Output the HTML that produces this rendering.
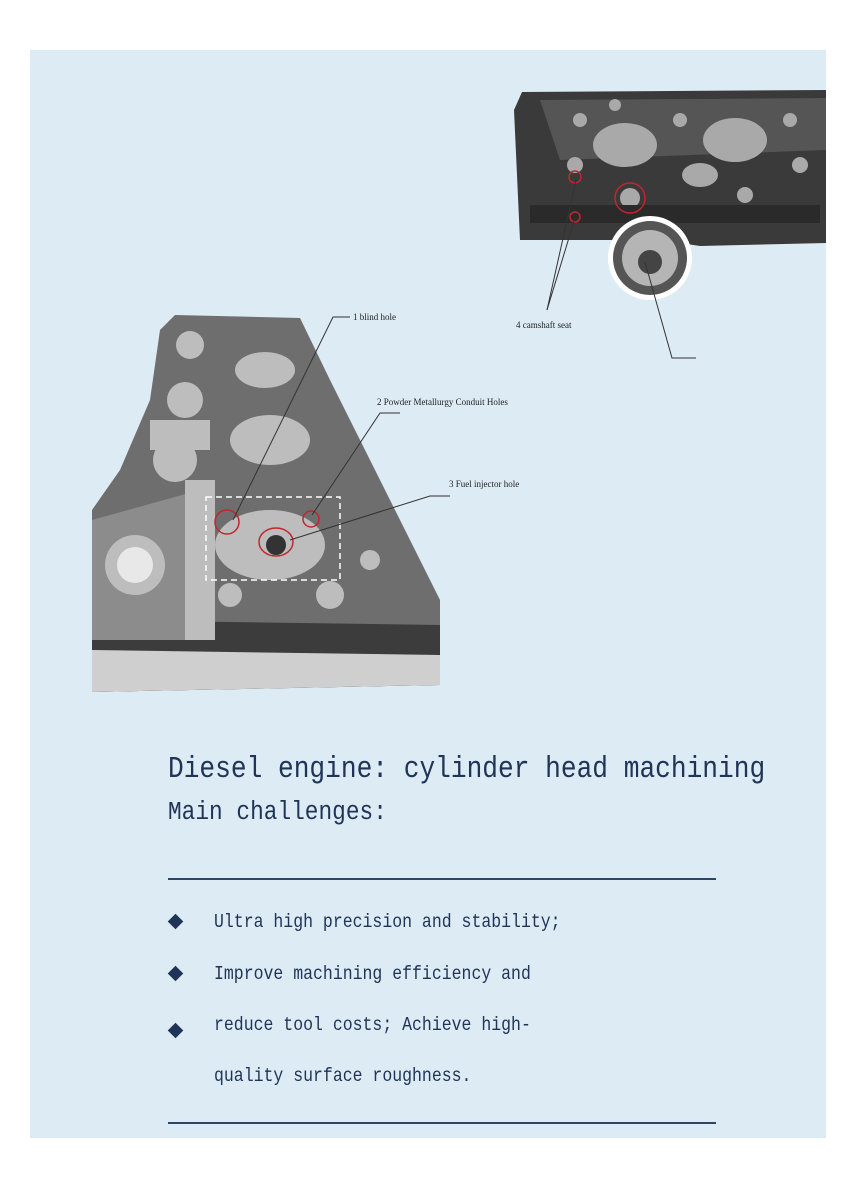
<!DOCTYPE html>
<html><head><style>
body{margin:0;width:860px;height:1177px;background:#fff;position:relative;overflow:hidden;font-family:"Liberation Mono",monospace;color:#1f3456}
.panel{position:absolute;left:30px;top:50px;width:796px;height:1088px;background:#ddebf4}
.t{position:absolute;white-space:nowrap;transform-origin:0 0}
.hr{position:absolute;left:168px;width:548px;height:2px;background:#2c4468}
.dia{position:absolute;left:170px;width:11px;height:11px;background:#1f3456;transform:rotate(45deg)}
</style></head><body>
<div class="panel"></div>
<svg width="860" height="1177" style="position:absolute;left:0;top:0">
 <polygon points="522,92 826,90 826,243 700,246 660,240 520,240 514,110" fill="#3a3a3a"/>
 <polygon points="540,100 826,98 826,150 560,160" fill="#555"/>
 <g fill="#a9a9a9">
  <ellipse cx="625" cy="145" rx="32" ry="22"/><ellipse cx="735" cy="140" rx="32" ry="22"/><ellipse cx="700" cy="175" rx="18" ry="12"/>
  <circle cx="580" cy="120" r="7"/><circle cx="615" cy="105" r="6"/><circle cx="680" cy="120" r="7"/><circle cx="790" cy="120" r="7"/><circle cx="575" cy="165" r="8"/><circle cx="630" cy="198" r="10"/><circle cx="745" cy="195" r="8"/><circle cx="800" cy="165" r="8"/>
 </g>
 <rect x="530" y="205" width="290" height="18" fill="#2a2a2a"/>
 <circle cx="650" cy="258" r="42" fill="#fff"/>
 <circle cx="650" cy="258" r="37" fill="#555"/>
 <circle cx="650" cy="258" r="28" fill="#b5b5b5"/>
 <circle cx="650" cy="262" r="12" fill="#444"/>
 <g fill="none" stroke="#c0272d" stroke-width="1.5"><circle cx="575" cy="177" r="6"/><circle cx="630" cy="198" r="15"/><circle cx="575" cy="217" r="5"/></g>
 <polygon points="160,330 175,315 300,318 330,380 380,480 440,600 440,685 92,692 92,510 120,470 150,400" fill="#6e6e6e"/>
 <polygon points="92,620 440,625 440,685 92,692" fill="#3c3c3c"/>
 <polygon points="92,650 440,655 440,685 92,692" fill="#cfcfcf"/>
 <polygon points="92,520 200,490 200,640 92,640" fill="#8c8c8c"/>
 <g fill="#bdbdbd">
  <circle cx="135" cy="565" r="30"/><circle cx="175" cy="460" r="22"/><circle cx="185" cy="400" r="18"/><circle cx="190" cy="345" r="14"/>
  <rect x="185" y="480" width="30" height="160"/><rect x="150" y="420" width="60" height="30"/>
  <ellipse cx="270" cy="545" rx="55" ry="35"/><ellipse cx="270" cy="440" rx="40" ry="25"/><ellipse cx="265" cy="370" rx="30" ry="18"/>
  <circle cx="330" cy="595" r="14"/><circle cx="370" cy="560" r="10"/><circle cx="230" cy="595" r="12"/>
 </g>
 <circle cx="135" cy="565" r="18" fill="#e8e8e8"/>
 <circle cx="276" cy="545" r="10" fill="#333"/>
 <rect x="206" y="497" width="134" height="83" fill="none" stroke="#fff" stroke-width="1.5" stroke-dasharray="6,4"/>
 <g fill="none" stroke="#c0272d" stroke-width="1.5"><circle cx="227" cy="522" r="12"/><circle cx="311" cy="519" r="8"/><ellipse cx="276" cy="542" rx="17" ry="14"/></g>
 <g fill="none" stroke="#333" stroke-width="1">
  <polyline points="350,317 333,317 233,520"/>
  <polyline points="400,413 380,413 312,515"/>
  <polyline points="450,496 430,496 290,540"/>
  <polyline points="547,310 576,180"/><polyline points="547,310 575,218"/>
  <polyline points="696,358 672,358 645,262"/>
 </g>
 <g font-family="Liberation Serif,serif" font-size="9" fill="#222">
  <text x="353" y="320">1  blind hole</text>
  <text x="377" y="405">2  Powder Metallurgy Conduit Holes</text>
  <text x="449" y="487">3  Fuel injector hole</text>
  <text x="516" y="328">4  camshaft seat</text>
 </g>
</svg>
<div class="t" style="left:168px;top:751px;font-size:26.2px;transform:scaleY(1.18)">Diesel engine: cylinder head machining</div>
<div class="t" style="left:168px;top:797px;font-size:22.8px;transform:scaleY(1.15)">Main challenges:</div>
<div class="hr" style="top:878px"></div>
<div class="dia" style="top:916px"></div>
<div class="dia" style="top:968px"></div>
<div class="dia" style="top:1025px"></div>
<div class="t" style="left:214px;top:911px;font-size:16.5px;transform:scaleY(1.15)">Ultra high precision and stability;</div>
<div class="t" style="left:214px;top:963px;font-size:16.5px;transform:scaleY(1.15)">Improve machining efficiency and</div>
<div class="t" style="left:214px;top:1014px;font-size:16.5px;transform:scaleY(1.15)">reduce tool costs; Achieve high-</div>
<div class="t" style="left:214px;top:1065px;font-size:16.5px;transform:scaleY(1.15)">quality surface roughness.</div>
<div class="hr" style="top:1122px"></div>
</body></html>
